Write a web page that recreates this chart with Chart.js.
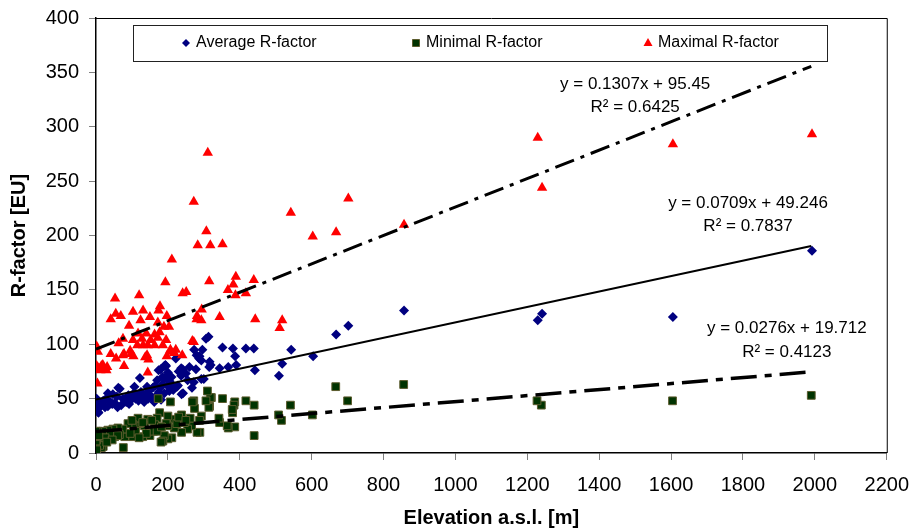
<!DOCTYPE html>
<html lang="en">
<head>
<meta charset="UTF-8">
<title>R-factor vs elevation</title>
<script src="https://cdn.jsdelivr.net/npm/chart.js"></script>
<style>
    html, body { margin: 0; padding: 0; background: #fff; }
    #wrap { width: 915px; height: 531px; }
</style>
</head>
<body>
<div id="wrap"><canvas id="rChart" width="915" height="531"></canvas></div>
<script>
// points are [elevation a.s.l. (m), R-factor (EU)]
const averageR = [
    [1992,186],[1229,122],[1241,128],[1605,125],[857,131],[702,117],[668,109],[604,89],[543,95],
    [518,82],[509,71],[442,76],[439,96],[417,96],[390,81],[387,89],[381,96],[368,79],[352,97],
    [344,78],[319,81],[306,105],[313,107],[315,79],[316,84],[293,85],[293,68],[288,89],[287,87],
    [278,77],[273,95],[267,60],[272,65],[255,67],[241,77],[238,54],[242,55],[237,71],[237,78],
    [225,61],[222,87],[209,63],[210,70],[200,74],[195,80],[193,81],[192,69],[190,55],[190,80],
    [204,57],[181,49],[180,77],[174,76],[172,54],[170,67],[162,47],[154,52],[142,61],[134,47],
    [130,52],[122,69],[115,52],[107,61],[98,49],[84,47],[70,44],[66,59],[62,60],[52,46],[47,54],
    [33,43],[33,55],[15,46],[7,41],[7,37],[5,38],[2,50],[0,41],[1,45],[20,48],[28,50],[40,47],
    [58,52],[75,50],[90,53],[105,55],[110,50],[125,56],[140,55],[148,58],[158,60],[165,62],
    [178,60],[185,63],[198,62],[205,66],[215,58],[228,62],[175,56],[160,50],[145,50],[118,48],
    [92,45],[60,42],[45,45],[12,44],[25,42],[185,70],[230,75],[250,73],[260,79],[280,90],
    [296,95],[300,68]
];
const minimalR = [
    [1990,53],[1604,48],[1239,44],[1227,48],[856,63],[700,48],[667,61],[602,35],[541,44],
    [516,30],[508,35],[440,44],[440,16],[417,48],[386,47],[384,44],[380,37],[379,40],[386,24],
    [368,23],[365,25],[352,50],[344,28],[342,32],[321,51],[318,51],[316,43],[314,42],[310,57],
    [306,48],[293,34],[289,19],[288,30],[281,19],[274,41],[272,48],[268,47],[266,25],[262,32],
    [255,22],[246,28],[238,35],[238,19],[218,31],[218,23],[211,14],[207,47],[200,34],[200,25],
    [200,13],[190,16],[186,11],[181,10],[177,37],[177,24],[173,50],[170,32],[163,26],[150,16],
    [144,31],[135,25],[130,15],[121,27],[117,32],[103,26],[102,15],[89,27],[80,15],[76,5],
    [75,22],[61,23],[52,15],[47,22],[36,15],[33,21],[20,6],[19,20],[15,5],[10,7],[5,20],[2,12],
    [0,20],[0,11],[2,3],[0,15],[160,20],[140,18],[110,20],[95,18],[65,17],[40,17],[25,14],
    [8,16],[120,14],[170,20],[195,27],[225,27],[230,33],[250,30],[100,30],[130,28],[155,30],
    [182,24],[60,16],[45,12],[30,10]
];
const maximalR = [
    [1992,293],[1605,284],[1241,244],[1229,290],[857,210],[702,234],[668,203],[603,199],[542,221],
    [518,122],[511,115],[443,123],[439,159],[417,147],[389,162],[388,145],[382,155],[367,150],
    [352,192],[344,125],[318,191],[315,158],[311,276],[307,204],[294,132],[293,122],[283,191],
    [281,126],[280,123],[272,231],[272,102],[268,103],[251,148],[241,147],[240,90],[222,95],
    [218,92],[211,178],[209,93],[207,95],[203,116],[197,89],[197,126],[195,104],[193,157],
    [189,116],[186,99],[178,135],[177,111],[174,131],[172,120],[172,106],[163,109],[163,99],
    [152,104],[150,125],[146,86],[144,99],[144,74],[142,90],[140,110],[137,88],[131,131],
    [131,99],[128,105],[124,122],[120,145],[117,110],[115,99],[104,89],[103,130],[103,104],
    [98,91],[95,94],[92,117],[78,80],[78,91],[75,105],[75,90],[69,126],[63,101],[56,87],
    [55,128],[53,142],[41,123],[41,91],[31,79],[29,76],[19,81],[15,80],[12,76],[8,78],[5,93],
    [4,64],[2,98],[2,80],[1,77]
];

// linear trend lines (Excel style), from x = 0 to the last station
const trendX = [0, 1990];
const averageTrend = [49.2, 190.3];
const minimalTrend = [19.7, 74.6];
const maximalTrend = [95.5, 355.6];

const seriesNames = ['Average R-factor', 'Minimal R-factor', 'Maximal R-factor'];
const equations = ['y = 0.0709x + 49.246', 'y = 0.0276x + 19.712', 'y = 0.1307x + 95.45'];
const rSquared = ['R\u00B2 = 0.7837', 'R\u00B2 = 0.4123', 'R\u00B2 = 0.6425'];

const FONT = '"Liberation Sans", Arial, Helvetica, sans-serif';

function toPoints(arr) {
    return arr.map(p => ({ x: p[0], y: p[1] }));
}
function trendPoints(vals) {
    return trendX.map((x, i) => ({ x: x, y: vals[i] }));
}

// small marker for the hand drawn legend
function legendMarker(ctx, style, cx, cy) {
    ctx.beginPath();
    if (style === 'rectRot') {
        ctx.moveTo(cx, cy - 4); ctx.lineTo(cx + 4, cy); ctx.lineTo(cx, cy + 4); ctx.lineTo(cx - 4, cy);
        ctx.closePath();
        ctx.fillStyle = '#000080'; ctx.fill();
    } else if (style === 'rect') {
        ctx.rect(cx - 3.5, cy - 3.5, 7, 7);
        ctx.fillStyle = '#003300'; ctx.fill();
        ctx.strokeStyle = '#5c5c2e'; ctx.lineWidth = 1; ctx.stroke();
    } else {
        ctx.moveTo(cx, cy - 5); ctx.lineTo(cx + 4.5, cy + 3); ctx.lineTo(cx - 4.5, cy + 3);
        ctx.closePath();
        ctx.fillStyle = '#ff0000'; ctx.fill();
    }
}

const extras = {
    id: 'extras',
    afterDraw(chart) {
        const { ctx, chartArea: a, scales: { x, y } } = chart;
        ctx.save();

        // top and right edge of the plot frame
        ctx.strokeStyle = '#000';
        ctx.lineWidth = 1;
        ctx.beginPath();
        ctx.moveTo(a.left, a.top + 0.5);
        ctx.lineTo(a.right + 0.5, a.top + 0.5);
        ctx.lineTo(a.right + 0.5, a.bottom);
        ctx.stroke();

        // legend box
        ctx.fillStyle = '#fff';
        ctx.fillRect(133, 25, 694, 36);
        ctx.strokeStyle = '#222';
        ctx.strokeRect(133.5, 25.5, 694, 36);
        const styles = ['rectRot', 'rect', 'triangle'];
        const mx = [186, 416, 648];
        ctx.font = '16px ' + FONT;
        ctx.textBaseline = 'middle';
        ctx.textAlign = 'left';
        styles.forEach((s, i) => {
            legendMarker(ctx, s, mx[i], 43);
            ctx.fillStyle = '#000';
            ctx.fillText(seriesNames[i], mx[i] + 10, 43);
        });

        // trend equations
        const anchors = [[1814, 230, 208], [1922, 115, 93], [1500, 339, 317.5]];
        ctx.font = '17px ' + FONT;
        ctx.textAlign = 'center';
        ctx.fillStyle = '#000';
        anchors.forEach((p, i) => {
            const px = x.getPixelForValue(p[0]);
            ctx.fillText(equations[i], px, y.getPixelForValue(p[1]));
            ctx.fillText(rSquared[i], px, y.getPixelForValue(p[2]));
        });
        ctx.restore();
    }
};

new Chart(document.getElementById('rChart'), {
    type: 'scatter',
    data: {
        datasets: [
            {
                label: 'max trend', data: trendPoints(maximalTrend), showLine: true, order: 0,
                borderColor: '#000', borderWidth: 3, borderDash: [20, 7, 4, 7], pointRadius: 0
            },
            {
                label: 'avg trend', data: trendPoints(averageTrend), showLine: true, order: 0,
                borderColor: '#000', borderWidth: 2, pointRadius: 0
            },
            {
                label: 'min trend', data: trendPoints(minimalTrend), showLine: true, order: 0,
                borderColor: '#000', borderWidth: 3.5, borderDash: [26, 8, 7, 8], pointRadius: 0
            },
            {
                label: seriesNames[2], data: toPoints(maximalR), order: 1,
                pointStyle: 'triangle', pointRadius: 6, borderWidth: 0,
                backgroundColor: '#ff0000', borderColor: '#ff0000'
            },
            {
                label: seriesNames[1], data: toPoints(minimalR), order: 2,
                pointStyle: 'rect', pointRadius: 5.5, borderWidth: 1,
                backgroundColor: '#003300', borderColor: '#5c5c2e'
            },
            {
                label: seriesNames[0], data: toPoints(averageR), order: 3,
                pointStyle: 'rectRot', pointRadius: 5, borderWidth: 0,
                backgroundColor: '#000080', borderColor: '#000080'
            }
        ]
    },
    options: {
        responsive: false,
        animation: false,
        events: [],
        layout: { padding: { top: 18, right: 27, left: 0, bottom: 0 } },
        plugins: {
            legend: { display: false },
            tooltip: { enabled: false }
        },
        scales: {
            x: {
                type: 'linear', min: 0, max: 2200,
                ticks: {
                    stepSize: 200, color: '#000', padding: 6, maxRotation: 0,
                    // taller line box pushes the labels down without widening the side padding
                    font: { family: FONT, size: 20, lineHeight: 1.9 },
                    callback: v => String(v)
                },
                grid: { drawOnChartArea: false, drawTicks: true, tickLength: 7, color: '#808080' },
                border: { color: '#000', width: 1.5 },
                title: {
                    display: true, text: 'Elevation a.s.l. [m]', color: '#000',
                    font: { family: FONT, size: 20, weight: 'bold' },
                    padding: { top: 0, bottom: 1 }
                },
                afterFit(s) { s.height = 78; }
            },
            y: {
                type: 'linear', min: 0, max: 400,
                ticks: {
                    stepSize: 50, color: '#000', padding: 10,
                    font: { family: FONT, size: 20, lineHeight: 0.8 },
                    callback: v => String(v)
                },
                grid: { drawOnChartArea: false, drawTicks: true, tickLength: 7, color: '#808080' },
                border: { color: '#000', width: 1.5 },
                title: {
                    display: true, text: 'R-factor [EU]', color: '#000',
                    font: { family: FONT, size: 20, weight: 'bold' },
                    padding: { top: 7, bottom: 0 }
                },
                afterFit(s) { s.width = 96; }
            }
        }
    },
    plugins: [extras]
});
</script>
</body>
</html>
